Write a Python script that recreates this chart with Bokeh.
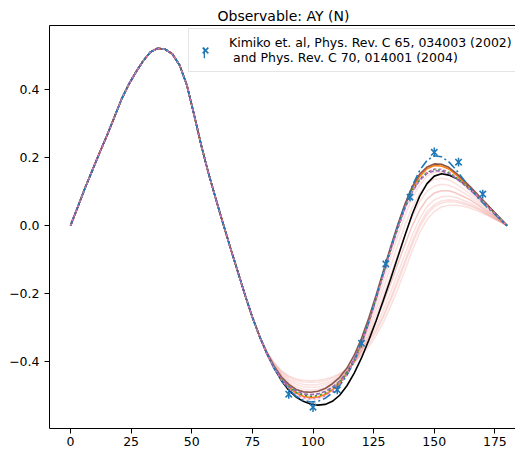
from bokeh.plotting import figure
from bokeh.models import (Range1d, FixedTicker, CustomJSTickFormatter, LinearAxis,
                          Legend, LegendItem)
from bokeh.embed import file_html
from bokeh.resources import INLINE

# ---- data ----
theta_deg = [0, 3, 6, 9, 12, 15, 18, 21, 24, 27, 30, 33, 36, 39, 42, 45, 48, 51,
             54, 57, 60, 63, 66, 69, 72, 75, 78,
             81, 84, 87, 90, 93, 96, 99, 102, 105, 108, 111, 114, 117, 120, 123,
             126, 129, 132, 135, 138, 141, 144, 147, 150, 153, 156, 159, 162, 165,
             168, 171, 174, 177, 180]

# common first part, theta 0..78
ay_head = [0.000, 0.055, 0.111, 0.163, 0.215, 0.265, 0.318, 0.372, 0.416, 0.453,
           0.486, 0.512, 0.523, 0.520, 0.506, 0.473, 0.414, 0.326, 0.234, 0.152,
           0.077, 0.004, -0.067, -0.136, -0.205, -0.270, -0.327]

# curve tails, theta 81..180
tail_black = [-0.378, -0.421, -0.457, -0.485, -0.505, -0.518, -0.526, -0.529, -0.527, -0.518,
              -0.500, -0.472, -0.435, -0.390, -0.338, -0.281, -0.220, -0.157, -0.092, -0.027,
              0.035, 0.087, 0.124, 0.146, 0.153, 0.149, 0.140, 0.126, 0.108, 0.088,
              0.067, 0.045, 0.022, 0.0]
tail_blue = [-0.378, -0.421, -0.456, -0.483, -0.503, -0.515, -0.520, -0.518, -0.509, -0.493,
             -0.471, -0.441, -0.400, -0.348, -0.285, -0.213, -0.138, -0.068, 0.000, 0.063,
             0.118, 0.163, 0.192, 0.206, 0.203, 0.188, 0.165, 0.137, 0.108, 0.082,
             0.060, 0.040, 0.020, 0.0]
tail_orange = [-0.377, -0.419, -0.452, -0.476, -0.493, -0.503, -0.507, -0.505, -0.498, -0.484,
               -0.465, -0.437, -0.398, -0.347, -0.285, -0.215, -0.142, -0.070, -0.002, 0.060,
               0.110, 0.145, 0.168, 0.177, 0.176, 0.167, 0.150, 0.130, 0.110, 0.088,
               0.066, 0.044, 0.022, 0.0]
tail_green = [-0.377, -0.419, -0.452, -0.476, -0.492, -0.500, -0.503, -0.501, -0.494, -0.480,
              -0.461, -0.433, -0.394, -0.343, -0.282, -0.213, -0.141, -0.070, -0.004, 0.056,
              0.104, 0.137, 0.157, 0.166, 0.165, 0.157, 0.142, 0.124, 0.105, 0.085,
              0.064, 0.043, 0.021, 0.0]
tail_purple = [-0.376, -0.418, -0.450, -0.473, -0.488, -0.496, -0.498, -0.496, -0.489, -0.476,
               -0.458, -0.431, -0.393, -0.343, -0.283, -0.215, -0.144, -0.074, -0.008, 0.052,
               0.100, 0.134, 0.154, 0.162, 0.161, 0.154, 0.140, 0.123, 0.104, 0.084,
               0.063, 0.042, 0.021, 0.0]
tail_brown = [-0.375, -0.415, -0.446, -0.468, -0.483, -0.490, -0.491, -0.488, -0.480, -0.466,
              -0.447, -0.420, -0.382, -0.332, -0.272, -0.205, -0.134, -0.063, 0.004, 0.065,
              0.116, 0.152, 0.173, 0.182, 0.181, 0.172, 0.155, 0.135, 0.114, 0.091,
              0.068, 0.045, 0.023, 0.0]
tail_pink = [-0.378, -0.421, -0.455, -0.480, -0.497, -0.507, -0.510, -0.508, -0.501, -0.487,
             -0.467, -0.439, -0.400, -0.349, -0.288, -0.218, -0.145, -0.073, -0.006, 0.054,
             0.102, 0.136, 0.157, 0.167, 0.166, 0.158, 0.143, 0.125, 0.106, 0.086,
             0.065, 0.043, 0.022, 0.0]

# light ensemble curves, theta 81..180
band_tails = [
    [-0.376, -0.417, -0.448, -0.471, -0.487, -0.496, -0.500, -0.498, -0.491, -0.478,
     -0.461, -0.435, -0.399, -0.352, -0.296, -0.231, -0.164, -0.095, -0.030, 0.032,
     0.083, 0.120, 0.146, 0.157, 0.158, 0.151, 0.137, 0.119, 0.101, 0.081,
     0.061, 0.041, 0.020, 0.0],
    [-0.375, -0.415, -0.445, -0.466, -0.481, -0.489, -0.492, -0.490, -0.484, -0.473,
     -0.456, -0.433, -0.400, -0.358, -0.306, -0.248, -0.185, -0.120, -0.057, 0.003,
     0.055, 0.096, 0.123, 0.137, 0.140, 0.135, 0.123, 0.108, 0.092, 0.075,
     0.056, 0.037, 0.019, 0.0],
    [-0.375, -0.413, -0.441, -0.461, -0.475, -0.482, -0.485, -0.483, -0.477, -0.467,
     -0.452, -0.430, -0.401, -0.363, -0.317, -0.264, -0.206, -0.146, -0.085, -0.026,
     0.028, 0.071, 0.101, 0.116, 0.122, 0.119, 0.110, 0.097, 0.083, 0.068,
     0.051, 0.034, 0.017, 0.0],
    [-0.374, -0.411, -0.438, -0.456, -0.468, -0.475, -0.477, -0.476, -0.470, -0.461,
     -0.448, -0.428, -0.402, -0.368, -0.328, -0.280, -0.228, -0.171, -0.112, -0.054,
     0.001, 0.046, 0.078, 0.096, 0.103, 0.103, 0.096, 0.086, 0.075, 0.061,
     0.046, 0.031, 0.015, 0.0],
    [-0.373, -0.409, -0.434, -0.451, -0.462, -0.468, -0.470, -0.468, -0.464, -0.456,
     -0.443, -0.426, -0.403, -0.373, -0.338, -0.297, -0.249, -0.196, -0.140, -0.083,
     -0.027, 0.021, 0.056, 0.076, 0.085, 0.087, 0.083, 0.075, 0.066, 0.054,
     0.041, 0.028, 0.014, 0.0],
    [-0.372, -0.406, -0.430, -0.446, -0.456, -0.461, -0.462, -0.461, -0.457, -0.450,
     -0.439, -0.424, -0.403, -0.379, -0.349, -0.313, -0.271, -0.221, -0.168, -0.111,
     -0.054, -0.004, 0.033, 0.056, 0.067, 0.071, 0.069, 0.064, 0.057, 0.048,
     0.036, 0.024, 0.012, 0.0],
    [-0.372, -0.405, -0.428, -0.443, -0.452, -0.456, -0.457, -0.456, -0.452, -0.446,
     -0.436, -0.422, -0.404, -0.382, -0.356, -0.324, -0.285, -0.238, -0.186, -0.130,
     -0.072, -0.020, 0.018, 0.042, 0.055, 0.060, 0.060, 0.057, 0.051, 0.043,
     0.033, 0.022, 0.011, 0.0],
    [-0.377, -0.419, -0.452, -0.476, -0.493, -0.503, -0.507, -0.505, -0.498, -0.480,
     -0.459, -0.433, -0.400, -0.365, -0.328, -0.280, -0.228, -0.171, -0.112, -0.054,
     0.001, 0.046, 0.078, 0.096, 0.103, 0.103, 0.096, 0.086, 0.075, 0.061,
     0.046, 0.031, 0.015, 0.0],
    [-0.377, -0.420, -0.454, -0.479, -0.498, -0.509, -0.513, -0.511, -0.503, -0.486,
     -0.463, -0.433, -0.401, -0.368, -0.338, -0.308, -0.264, -0.213, -0.158, -0.102,
     -0.045, 0.005, 0.041, 0.062, 0.073, 0.076, 0.074, 0.068, 0.060, 0.050,
     0.038, 0.025, 0.013, 0.0],
]

# experimental data
data_theta = [90, 100, 110, 120, 130, 140, 150, 160, 170]
data_ay = [-0.497, -0.535, -0.484, -0.347, -0.113, 0.084, 0.216, 0.187, 0.093]
data_err = [0.013, 0.014, 0.013, 0.013, 0.013, 0.013, 0.014, 0.013, 0.013]

x_ticks = [0, 25, 50, 75, 100, 125, 150, 175]
y_ticks = [-0.4, -0.2, 0.0, 0.2, 0.4]
title_text = "Observable: AY (N)"
legend_text = "Kimiko et. al, Phys. Rev. C 65, 034003 (2002)\n and Phys. Rev. C 70, 014001 (2004)"

FONT = "DejaVu Sans"
BLUE = "#1f77b4"

p = figure(width=515, height=451, output_backend="svg", toolbar_location=None,
           x_range=Range1d(-8.66, 183.5), y_range=Range1d(-0.598, 0.590),
           min_border_left=49, min_border_right=0, min_border_top=25,
           min_border_bottom=23)
p.outline_line_color = None
p.xgrid.visible = False
p.ygrid.visible = False
p.background_fill_color = "white"

p.title.text = title_text
p.title.text_font = FONT
p.title.text_font_size = "14px"
p.title.text_font_style = "normal"
p.title.text_color = "black"
p.title.align = "left"
p.title.offset = 168
p.title.standoff = 4

for ax in (p.xaxis[0], p.yaxis[0]):
    ax.major_label_text_font = FONT
    ax.major_label_text_font_size = "12.5px"
    ax.major_label_text_color = "black"
    ax.axis_line_color = "black"
    ax.major_tick_line_color = "black"
    ax.minor_tick_line_color = None
    ax.major_tick_in = 0
    ax.major_tick_out = 5
p.xaxis.major_label_standoff = 3
p.yaxis.major_label_standoff = 5
p.xaxis.ticker = FixedTicker(ticks=x_ticks)
p.yaxis.ticker = FixedTicker(ticks=y_ticks)
p.yaxis.formatter = CustomJSTickFormatter(
    code="return tick.toFixed(1).replace('-', '\u2212');")

# top border of the frame (an unlabelled axis)
top_axis = LinearAxis(ticker=FixedTicker(ticks=x_ticks), major_tick_out=0,
                      major_tick_in=0, major_tick_line_color=None,
                      minor_tick_line_color=None, major_label_standoff=0,
                      major_label_text_font_size="1px",
                      major_label_text_alpha=0, axis_line_color="black",
                      axis_line_width=1)
p.add_layout(top_axis, "above")

# light ensemble
for t in band_tails:
    p.line(theta_deg, ay_head + t, line_color="#e8756e", line_alpha=0.22,
           line_width=1.5)

p.line(theta_deg, ay_head + tail_black, line_color="black", line_width=1.6)
p.line(theta_deg, ay_head + tail_orange, line_color="#ff7f0e", line_width=1.6)
p.line(theta_deg, ay_head + tail_brown, line_color="#8c564b", line_width=1.6)
p.line(theta_deg, ay_head + tail_purple, line_color="#9467bd", line_width=1.6,
       line_dash="4 2")
p.line(theta_deg, ay_head + tail_green, line_color="#2ca02c", line_width=1.6,
       line_dash="2 3")
p.line(theta_deg, ay_head + tail_blue, line_color=BLUE, line_width=1.6,
       line_dash="9 3 2 3")
p.line(theta_deg, ay_head + tail_pink, line_color="#e377c2", line_width=1.6,
       line_dash="2 3")

# data with error bars
lo = [a - e for a, e in zip(data_ay, data_err)]
hi = [a + e for a, e in zip(data_ay, data_err)]
p.segment(x0=data_theta, y0=lo, x1=data_theta, y1=hi, line_color=BLUE,
          line_width=1.5)
sc = p.scatter(data_theta, data_ay, marker="x", size=9, line_color=BLUE,
               line_width=1.6)

legend = Legend(items=[LegendItem(label=legend_text, renderers=[sc])],
                location=(139, 356))
legend.label_text_font = FONT
legend.label_text_font_size = "12.5px"
legend.label_text_line_height = 1.1
legend.label_text_color = "black"
legend.padding = 6
legend.margin = 0
legend.glyph_width = 20
legend.glyph_height = 28
legend.label_standoff = 14
legend.border_line_color = "#cccccc"
legend.border_line_width = 1
legend.background_fill_color = "white"
legend.background_fill_alpha = 0.8
p.add_layout(legend)

# vertical error-bar stroke of the legend symbol (zero-size rect in the plot)
bar_proto = p.rect(x=data_theta[:1], y=data_ay[:1], width=0, height=0,
                   fill_color=BLUE, line_color=None)
bar_legend = Legend(items=[LegendItem(label=" ", renderers=[bar_proto])],
                    location=(154, 369))
bar_legend.padding = 0
bar_legend.margin = 0
bar_legend.glyph_width = 2
bar_legend.glyph_height = 13
bar_legend.label_height = 13
bar_legend.label_standoff = 0
bar_legend.label_text_font_size = "2px"
bar_legend.border_line_color = None
bar_legend.background_fill_alpha = 0
p.add_layout(bar_legend)

open("out.html", "w").write(file_html(p, INLINE))
